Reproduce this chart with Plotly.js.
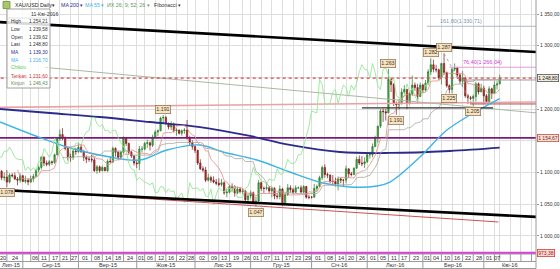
<!DOCTYPE html>
<html><head><meta charset="utf-8">
<script src="https://cdn.plot.ly/plotly-3.0.1.min.js"></script>
<style>html,body{margin:0;padding:0;background:#fff}#chart{width:560px;height:269px}</style>
</head><body><div id="chart"></div>
<script>
// ---------- DATA ----------
const startDate = '2015-07-20'; // first candle (weekday index 0)
const openP = [
1131,1107,1102,1092,1093, 1085,1096,1095,1090,1088, 1095,1086,1088,1085,1090, 1094,1104,1108,1124,1115,
1113,1117,1116,1128,1153, 1160,1154,1138,1125,1124, 1134,1133,1140,1133,1124, 1121,1121,1120,1103,1109,
1103,1108,1103,1118,1117, 1138,1132,1124,1132,1154, 1146,1132,1126,1115,1114, 1137,1137,1146,1147,1143,
1156,1164,1166,1186,1187, 1177,1172,1176,1166,1167, 1162,1166,1167,1155,1147, 1141,1135,1115,1106,1104,
1088,1092,1088,1085,1083, 1081,1084,1068,1069,1078, 1077,1068,1074,1070,1071, 1057,1063,1068,1053,1055,
1084,1075,1075,1076,1071, 1075,1063,1062,1074,1050, 1065,1076,1073,1069,1076, 1076,1069,1078,1061,1061,
1061,1075,1078,1092,1108, 1097,1096,1086,1086,1082, 1090,1088,1088,1106,1098, 1097,1107,1121,1115,1114,
1117,1128,1128,1141,1155, 1173,1197,1196,1194,1247, 1239,1209,1207,1210,1227, 1231,1209,1224,1238,1234,
1220,1238,1230,1241,1259, 1270,1263,1262,1250,1272, 1258,1237,1231,1263,1265, 1254,1244,1249,1221,1218,
1217,1220,1240,1227,1233, 1221,1212,1232,1225,1238, 1239.62];
const highP = [
1132,1110,1104,1100,1104, 1099,1099,1100,1093,1099, 1096,1095,1090,1095,1098, 1106,1111,1126,1126,1119,
1120,1119,1130,1154,1168, 1170,1157,1140,1130,1138, 1139,1146,1144,1136,1127, 1125,1128,1124,1112,1111,
1111,1109,1121,1125,1141, 1140,1134,1134,1157,1156, 1147,1134,1128,1120,1142, 1142,1148,1152,1149,1160,
1167,1168,1188,1191,1189, 1179,1181,1179,1170,1168, 1168,1170,1183,1158,1151, 1143,1136,1121,1110,1109,
1098,1095,1094,1090,1091, 1090,1086,1074,1081,1083, 1080,1078,1077,1075,1072, 1067,1072,1070,1062,1088,
1086,1078,1085,1079,1077, 1077,1068,1080,1076,1068, 1082,1080,1076,1080,1078, 1080,1080,1079,1065,1063,
1082,1081,1095,1111,1113, 1100,1097,1096,1092,1094, 1092,1090,1111,1106,1101, 1108,1125,1127,1126,1124,
1131,1133,1146,1158,1174, 1200,1201,1200,1263,1248, 1241,1212,1216,1233,1238, 1232,1229,1253,1242,1240,
1242,1240,1246,1263,1280, 1278,1270,1264,1273,1287.8, 1259,1239,1265,1272,1267, 1256,1260,1250,1224,1221,
1223,1243,1242,1240,1237, 1224,1236,1234,1244,1244, 1254.21];
const lowP = [
1080,1096,1088,1087,1077, 1083,1092,1088,1080,1084, 1085,1083,1080,1084,1085, 1092,1100,1105,1110,1110,
1110,1112,1114,1127,1150, 1151,1135,1119,1117,1120, 1128,1131,1131,1118,1115, 1117,1116,1101,1098,1100,
1102,1102,1101,1115,1115, 1125,1120,1121,1130,1142, 1128,1123,1111,1107,1104, 1132,1135,1139,1135,1140,
1155,1157,1165,1178,1176, 1168,1167,1163,1158,1160, 1158,1161,1152,1143,1136, 1131,1112,1104,1101,1085,
1086,1084,1083,1080,1078, 1078,1065,1061,1067,1070, 1062,1066,1067,1066,1052, 1054,1059,1051,1046,1052,
1071,1068,1072,1068,1061, 1058,1058,1058,1047,1049, 1063,1068,1066,1068,1074, 1069,1068,1059,1058,1059,
1061,1070,1077,1088,1092, 1091,1083,1081,1078,1072, 1083,1078,1083,1092,1094, 1096,1106,1112,1110,1107,
1115,1122,1124,1140,1147, 1170,1180,1182,1194,1227, 1205,1191,1199,1207,1224, 1200,1207,1221,1229,1209,
1219,1225,1228,1238,1254, 1258,1258,1246,1239,1254, 1234,1225,1225,1260,1250, 1240,1235,1218,1208,1214,
1205.06,1212,1223,1227,1209, 1211,1210,1216,1225,1231, 1239.58];
const closeP = [
1107,1102,1092,1093,1085, 1096,1095,1090,1088,1095, 1086,1088,1085,1090,1094, 1104,1108,1124,1115,1113,
1117,1116,1128,1153,1160, 1154,1138,1125,1124,1134, 1133,1140,1133,1124,1121, 1121,1120,1103,1109,1103,
1108,1103,1118,1117,1138, 1132,1124,1132,1154,1146, 1132,1126,1115,1114,1137, 1137,1146,1147,1143,1156,
1164,1166,1186,1187,1177, 1172,1176,1166,1167,1162, 1166,1167,1155,1147,1141, 1135,1115,1106,1104,1088,
1092,1088,1085,1083,1081, 1084,1068,1069,1078,1077, 1068,1074,1070,1071,1057, 1063,1068,1053,1055,1084,
1075,1075,1076,1071,1075, 1063,1062,1074,1050,1065, 1076,1073,1069,1076,1076, 1069,1078,1061,1061,1061,
1075,1078,1092,1108,1097, 1096,1086,1086,1082,1090, 1088,1088,1106,1098,1097, 1107,1121,1115,1114,1117,
1128,1128,1141,1155,1173, 1197,1196,1194,1247,1239, 1209,1207,1210,1227,1231, 1209,1224,1238,1234,1220,
1238,1230,1241,1259,1270, 1263,1262,1250,1272,1258, 1237,1231,1263,1265,1254, 1244,1249,1221,1218,1217,
1220,1240,1227,1233,1221, 1212,1232,1225,1238,1239.62, 1248.80];

// moving averages (sparse points)
const ma200Idx = [1.4, 20.3, 39.1, 58, 76.9, 95.7, 110.8, 129.7, 148.6, 171.2, 190];
const ma200Val = [1200.2, 1193.9, 1187.6, 1179.7, 1171.8, 1157.7, 1143.5, 1132.4, 1130.9, 1134.0, 1139.3];
const ma55Idx = [1.4, 13.9, 26.7, 42.9, 54.2, 64.4, 76.9, 85.6, 98.4, 110.8, 123.3, 133.5, 143.7, 148.6, 152.3, 159.9, 170.1, 178.8, 190];
const ma55Val = [1179.7, 1159.2, 1140.3, 1124.5, 1119.8, 1135.6, 1143.5, 1132.4, 1119.8, 1100.9, 1083.6, 1077.3, 1078.8, 1085.1, 1096.2, 1124.5, 1167.0, 1190.8, 1216.7];

// drawn objects (trend lines / levels) in chart values
const upperChannel = {x:[0, 204], y:[1337.5, 1290.0]};
const lowerChannel = {x:[0, 204], y:[1072.8, 1030.0]};
const redTrend     = {x:[0, 189.5], y:[1074.5, 1022.1]};
const pinkTrend    = {x:[0, 204], y:[1202.8, 1211.3]};
const greyTrend    = {x:[18, 204], y:[1266, 1194]};
const supportLine  = {x:[138, 187.5], y:[1202, 1202]};
const lastPrice = 1248.80;
const levelPurple = 1154.67;
const levelMagenta = 973.38;
const fibLevels = [1330.71, 1266.04, 1246.0, 1208.18];
const fibStart  = [162.5, 171, 176, 178.8];
const fibText   = ['161,80(1 330,71)', '76,40(1 266,04)', '', ''];
const fibDiag   = {x:[169, 180], y:[1287.8, 1205.06]};

// price labels on extremes
const extIdx = [4, 63, 98, 148, 151, 164, 169, 171, 180];
const extVal = [1077, 1191, 1046, 1263, 1191, 1280, 1287.8, 1225, 1205.06];
const extTxt = ['1.078', '1.191', '1.047', '1.263', '1.191', '1.282', '1.287', '1.225', '1.205'];
const extPos = ['below','above','below','above','below','above','above','below','below'];

// axis labels
const yTickVals = [1000, 1050, 1100, 1150, 1200, 1250, 1300, 1350];
const yTickText = ['1 000,00','1 050,00','1 100,00','','1 200,00','','1 300,00','1 350,00'];
const dayTickDates = ['2015-07-20','2015-07-24','2015-08-03','2015-08-06','2015-08-11','2015-08-17','2015-08-21','2015-08-27',
 '2015-09-01','2015-09-08','2015-09-14','2015-09-18','2015-09-24','2015-10-01','2015-10-06','2015-10-12','2015-10-16','2015-10-22','2015-10-28',
 '2015-11-02','2015-11-09','2015-11-13','2015-11-19','2015-11-26','2015-12-01','2015-12-07','2015-12-11','2015-12-17','2015-12-23','2015-12-29',
 '2016-01-01','2016-01-08','2016-01-14','2016-01-20','2016-01-26','2016-02-01','2016-02-05','2016-02-11','2016-02-17','2016-02-23',
 '2016-03-01','2016-03-04','2016-03-10','2016-03-16','2016-03-22','2016-03-28','2016-04-01','2016-04-07','2016-04-11','2016-04-15','2016-04-21','2016-04-27'];
const dayTickText = ['20','24','','06','11','17','21','27',
 '01','08','14','18','24','01','06','12','16','22','28',
 '02','09','13','19','26','01','07','11','17','23','29',
 '01','08','14','20','26','01','05','11','17','23',
 '01','04','10','16','22','28','01','07','','','',''];
const monthStarts = ['2015-07-20','2015-08-03','2015-09-01','2015-10-01','2015-11-02','2015-12-01','2016-01-01','2016-02-01','2016-03-01','2016-04-01'];
const monthNames  = ['Лип-15','Сер-15','Вер-15','Жов-15','Лис-15','Гру-15','Січ-16','Лют-16','Бер-16','Кві-16'];

const infoLabels = ['High','Low','Open','Last','MA','MA','Chikou','Tenkan','Kinjun'];
const infoValues = ['1 254,21','1 239,58','1 239,62','1 248,80','1 139,30','1 216,70','-','1 231,60','1 246,43'];
const infoColors = ['#333','#333','#333','#333','#2b2b8c','#3cb4e6','#55cc55','#cc3333','#5a8a5a'];
const infoDate = '11-Кві-2016';
const headerItems = ['XAU/USD Daily▾','MA 200 ▾','MA 55 ▾','ИХ 26; 9; 52; 26 ▾','Fibonacci ▾'];
const headerColors = ['#222','#2b2b8c','#3cb4e6','#5a9a5a','#333'];
const headerPx = [13, 59, 83, 105, 152];

// ---------- helpers ----------
function idxOf(d){
  const a = new Date(startDate+'T00:00:00Z'), b = new Date(d+'T00:00:00Z');
  let n = 0; const t = new Date(a);
  while (t < b){ const w = t.getUTCDay(); if (w !== 0 && w !== 6) n++; t.setUTCDate(t.getUTCDate()+1); }
  return n;
}
const N = closeP.length;
const xIdx = closeP.map((_, i) => i);
const XMIN = 1.4, XMAX = 203.7;
const PW = 536, PH = 254;
const py = v => 1 - v/PH;    // pixel-row -> paper y
const px = v => v/PW;        // pixel-col -> paper x

// Ichimoku derived from candles
const tenkan = [], tenkanX = [], kijun = [], kijunX = [], chikou = [], chikouX = [];
for (let i = 0; i < N; i++){
  if (i >= 8){ const h = Math.max(...highP.slice(i-8, i+1)), l = Math.min(...lowP.slice(i-8, i+1)); tenkan.push((h+l)/2); tenkanX.push(i); }
  if (i >= 25){ const h = Math.max(...highP.slice(i-25, i+1)), l = Math.min(...lowP.slice(i-25, i+1)); kijun.push((h+l)/2); kijunX.push(i); }
  if (i + 26 < N){ chikou.push(closeP[i+26]); chikouX.push(i); }
}

const FONT = 'Liberation Sans, Arial, sans-serif';
const traces = [];
function line(x, y, color, width, dash, shape){
  traces.push({type:'scatter', mode:'lines', x:x, y:y, hoverinfo:'skip', showlegend:false,
    line:{color:color, width:width, dash:dash||'solid', shape:shape||'linear', smoothing:1}});
}
// drawn lines behind
line(pinkTrend.x, pinkTrend.y, '#eaa3a3', 1.6);
line(greyTrend.x, greyTrend.y, '#a9b8a4', 1);
line([XMIN-2, XMAX+2], [levelPurple, levelPurple], '#7a1a7a', 1.8);
line([XMIN-2, XMAX+2], [levelMagenta, levelMagenta], '#e03ce0', 2.4);
fibLevels.forEach((v, k) => line([fibStart[k], XMAX+2], [v, v], ['#aab8cc','#e39ae3','#9a9a9a','#b04848'][k], 1));
line(fibDiag.x, fibDiag.y, '#9a9a9a', 0.8, 'dot');
line(ma200Idx, ma200Val, '#2b2b8c', 1.8, 'solid', 'spline');
line(ma55Idx, ma55Val, '#3cb4e6', 1.4, 'solid', 'spline');
line(chikouX, chikou, '#94e894', 0.9);
line(kijunX, kijun, '#a8a6a0', 0.8);
line(tenkanX, tenkan, '#e58a8a', 0.8);
line(redTrend.x, redTrend.y, '#d05050', 1);
line(supportLine.x, supportLine.y, '#333333', 1.4);
line([XMIN-2, XMAX+2], [lastPrice, lastPrice], '#e04848', 1.3, 'dot');

traces.push({type:'candlestick', x:xIdx, open:openP, high:highP, low:lowP, close:closeP,
  hoverinfo:'skip', showlegend:false, whiskerwidth:0,
  increasing:{line:{color:'#2c7a2c', width:0.7}, fillcolor:'#3faf3f'},
  decreasing:{line:{color:'#7a1818', width:0.7}, fillcolor:'#c0302b'}});

line(upperChannel.x, upperChannel.y, '#000000', 2.6);
line(lowerChannel.x, lowerChannel.y, '#000000', 2.6);

// ---------- annotations & shapes ----------
const ann = [], shapes = [];
const tickIdx = dayTickDates.map(idxOf);

// bottom band
[0, -0.0295, -0.0571].forEach(y => shapes.push({type:'line', xref:'paper', yref:'paper', x0:0, x1:1, y0:y, y1:y, line:{color:'#9a9a9a', width:1}, layer:'above'}));
shapes.push({type:'line', xref:'paper', yref:'paper', x0:1, x1:1, y0:-0.0571, y1:1, line:{color:'#9a9a9a', width:1}, layer:'above'});
tickIdx.forEach((t, i) => {
  if (t >= XMIN && t <= XMAX) shapes.push({type:'line', xref:'x', yref:'paper', x0:t, x1:t, y0:0, y1:-0.0295, line:{color:'#9a9a9a', width:1}, layer:'above'});
  const a = Math.max(t, XMIN), b = Math.min(i+1 < tickIdx.length ? tickIdx[i+1] : XMAX, XMAX);
  if (dayTickText[i] && b > a) ann.push({xref:'x', yref:'paper', x:(a+b)/2, y:py(258), text:dayTickText[i], showarrow:false, font:{family:FONT, size:5.6, color:'#333'}, yanchor:'middle'});
});
const monthIdx = monthStarts.map(idxOf);
monthIdx.forEach((t, i) => {
  if (t >= XMIN) shapes.push({type:'line', xref:'x', yref:'paper', x0:t, x1:t, y0:-0.0295, y1:-0.0571, line:{color:'#9a9a9a', width:1}, layer:'above'});
  const a = Math.max(t, XMIN), b = Math.min(i+1 < monthIdx.length ? monthIdx[i+1] : XMAX, XMAX);
  ann.push({xref:'x', yref:'paper', x:(a+b)/2, y:py(265.2), text:monthNames[i], showarrow:false, font:{family:FONT, size:5.6, color:'#333'}, yanchor:'middle'});
});

// extreme labels
extIdx.forEach((x, i) => ann.push({xref:'x', yref:'y', x:x, y:extVal[i], text:extTxt[i], showarrow:false,
  yanchor: extPos[i] === 'above' ? 'bottom' : 'top', yshift: extPos[i] === 'above' ? 1 : -1,
  font:{family:FONT, size:5.3, color:'#4a3520'}, bgcolor:'#f4e4c4', bordercolor:'#9a7a5a', borderwidth:0.8, borderpad:0.5}));

// fib texts
fibText.forEach((t, k) => { if (t) ann.push({xref:'x', yref:'y', x:[175.5, 183.5][k], y:fibLevels[k], text:t, showarrow:false, yanchor:'bottom', yshift:0,
  font:{family:FONT, size:5.5, color:['#7f96b2','#d040d0'][k]}}); });

// right-axis value boxes
[[lastPrice, '1 248,80', '#f1ecdc', '#555', '#222'], [levelPurple, '1 154,67', '#fbe1d3', '#c05050', '#6a2a2a'], [levelMagenta, '973,38', '#fbd9d4', '#d04040', '#a02020']]
 .forEach(r => ann.push({xref:'paper', yref:'y', x:1, y:r[0], xanchor:'left', xshift:0.5, text:r[1], showarrow:false,
   font:{family:FONT, size:5, color:r[4]}, bgcolor:r[2], bordercolor:r[3], borderwidth:0.8, borderpad:0.4}));

// header
shapes.push({type:'rect', xref:'paper', yref:'paper', x0:px(3), x1:px(10), y0:py(8.5), y1:py(1.5), fillcolor:'#a8c86a', line:{color:'#6f8f3a', width:0.8}, layer:'above'});
headerItems.forEach((t, i) => ann.push({xref:'paper', yref:'paper', x:px(headerPx[i]), y:py(4.8), xanchor:'left', yanchor:'middle', text:t, showarrow:false,
  font:{family:FONT, size:5.3, color:headerColors[i]}}));

// info box
shapes.push({type:'rect', xref:'paper', yref:'paper', x0:px(7), x1:px(50), y0:py(88), y1:py(9), fillcolor:'rgba(255,255,255,0.85)', line:{color:'#a0a0a0', width:1}, layer:'above'});
ann.push({xref:'paper', yref:'paper', x:px(28.5), y:py(14), text:infoDate, showarrow:false, yanchor:'middle', font:{family:FONT, size:5.2, color:'#333'}});
const rowsY = [22, 29.6, 37.2, 44.8, 52.4, 60, 68, 76, 83.6];
infoLabels.forEach((l, i) => {
  ann.push({xref:'paper', yref:'paper', x:px(8.5), y:py(rowsY[i]), xanchor:'left', yanchor:'middle', text:l, showarrow:false, font:{family:FONT, size:4.8, color:infoColors[i]}});
  ann.push({xref:'paper', yref:'paper', x:px(49.5), y:py(rowsY[i]), xanchor:'right', yanchor:'middle', text:infoValues[i], showarrow:false, font:{family:FONT, size:4.8, color:infoColors[i]}});
});
shapes.push({type:'line', xref:'paper', yref:'paper', x0:px(7), x1:px(50), y0:py(18), y1:py(18), line:{color:'#cfcfcf', width:0.6}, layer:'above'});

const layout = {
  width:560, height:269, margin:{l:0, r:24, t:0, b:15, pad:0},
  paper_bgcolor:'#ffffff', plot_bgcolor:'#ffffff', showlegend:false,
  font:{family:FONT, size:6, color:'#333'},
  xaxis:{type:'linear', range:[XMIN, XMAX], tickvals:tickIdx.filter(t => t > XMIN && t < XMAX), showticklabels:false, ticks:'',
    showgrid:true, gridcolor:'#dedede', gridwidth:1, zeroline:false, showline:false, rangeslider:{visible:false}, fixedrange:true},
  yaxis:{side:'right', range:[971.6, 1372.1], tickvals:yTickVals, ticktext:yTickText, ticks:'outside', ticklen:2, tickcolor:'#9a9a9a',
    ticklabelstandoff:0, tickfont:{family:FONT, size:5, color:'#333'}, showgrid:true, gridcolor:'#dedede', zeroline:false, showline:false, fixedrange:true},
  shapes:shapes, annotations:ann
};
Plotly.newPlot('chart', traces, layout, {displayModeBar:false, staticPlot:true});
</script></body></html>
